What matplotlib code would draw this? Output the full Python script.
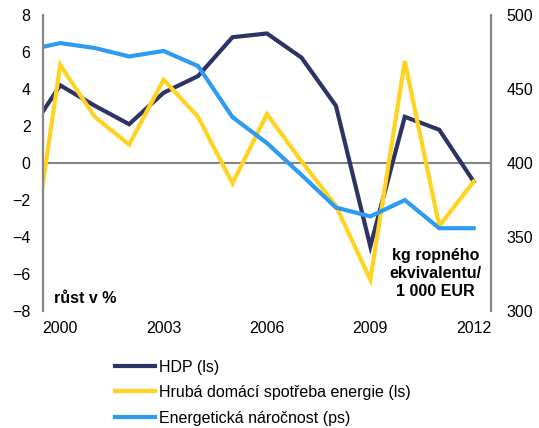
import matplotlib
matplotlib.use("Agg")
import matplotlib.pyplot as plt

plt.rcParams['font.family'] = ['Liberation Sans', 'DejaVu Sans']

# data (1999 only used so the lines run in from the left edge)
years = [1999, 2000, 2001, 2002, 2003, 2004, 2005, 2006, 2007, 2008, 2009, 2010, 2011, 2012]
hdp = [1.4, 4.2, 3.1, 2.1, 3.8, 4.7, 6.8, 7.0, 5.7, 3.1, -4.5, 2.5, 1.8, -1.0]
spotreba = [-7.4, 5.3, 2.5, 1.0, 4.5, 2.5, -1.1, 2.65, 0.1, -2.3, -6.3, 5.5, -3.4, -1.0]
narocnost = [476, 481, 477.7, 472, 475.7, 465.5, 431, 413.5, 392, 370, 364, 375, 356, 356]

year_ticks = [2000, 2003, 2006, 2009, 2012]
left_ticks = [-8, -6, -4, -2, 0, 2, 4, 6, 8]
right_ticks = [300, 350, 400, 450, 500]

navy = '#2e3366'
yellow = '#ffd320'
blue = '#2e9bf2'
grey = '#858585'

fig = plt.figure(figsize=(5.39, 4.28), dpi=100)
ax = fig.add_axes([0.0798, 0.273, 0.831, 0.692])
ax2 = ax.twinx()

ax.axhline(0, color=grey, lw=1.5, zorder=1)
l1, = ax.plot(years, hdp, color=navy, lw=3, solid_joinstyle='miter', zorder=3, label='HDP (ls)')
l2, = ax.plot(years, spotreba, color=yellow, lw=3, solid_joinstyle='miter', zorder=4,
              label='Hrubá domácí spotřeba energie (ls)')
l3, = ax2.plot(years, narocnost, color=blue, lw=3, solid_joinstyle='miter',
               label='Energetická náročnost (ps)')

ax.set_xlim(1999.5, 2012.5)
ax.set_ylim(-8, 8)
ax2.set_ylim(300, 500)
ax.set_xticks(year_ticks)
ax.set_yticks(left_ticks)
ax2.set_yticks(right_ticks)

for a in (ax, ax2):
    a.spines['top'].set_visible(False)
    a.spines['bottom'].set_visible(False)
    a.spines['left'].set_color(grey)
    a.spines['right'].set_color(grey)
    a.spines['left'].set_linewidth(1.5)
    a.spines['right'].set_linewidth(1.5)
    a.tick_params(length=0, labelsize=11.5, colors='black')
ax.tick_params(axis='y', pad=9)
ax.tick_params(axis='x', pad=7)
ax2.tick_params(axis='y', pad=11)

ax.text(0.025, 0.018, 'růst v %', transform=ax.transAxes, fontsize=11.5,
        fontweight='bold', ha='left', va='bottom')
ax.text(0.876, 0.04, 'kg ropného\nekvivalentu/\n1 000 EUR', transform=ax.transAxes,
        fontsize=11.5, fontweight='bold', ha='center', va='bottom', linespacing=1.25)

fig.legend(handles=[l1, l2, l3], loc='upper left', bbox_to_anchor=(0.213, 0.16),
           frameon=False, fontsize=11.5, handlelength=2.5, handletextpad=0.25,
           labelspacing=0.66, borderaxespad=0, borderpad=0)

fig.savefig('out.png', dpi=100)
